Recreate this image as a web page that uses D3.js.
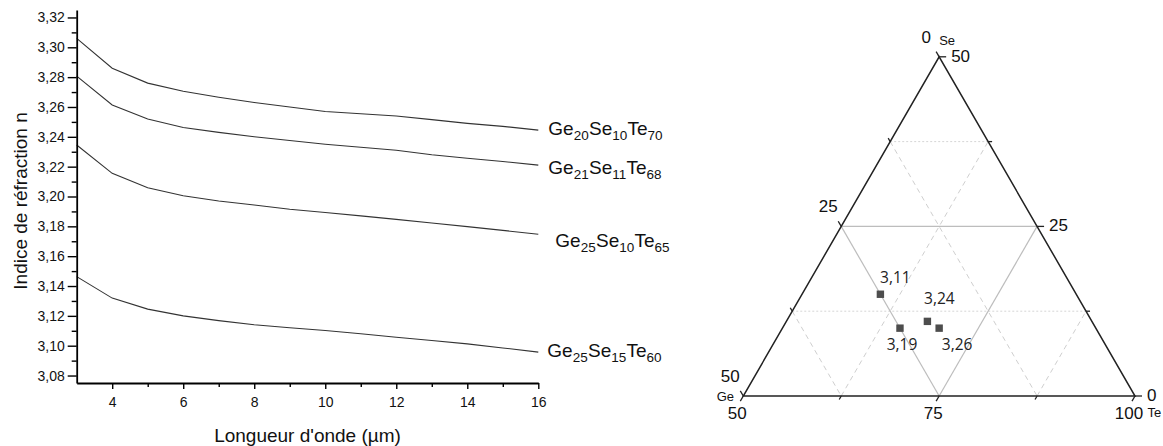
<!DOCTYPE html>
<html><head><meta charset="utf-8">
<script src="https://cdn.jsdelivr.net/npm/d3@7"></script>
<style>body{margin:0;background:#fff;} svg{display:block;}</style>
</head><body>
<svg id="c" width="1163" height="446"></svg>
<script>
// ---------- Data: refractive index vs wavelength ----------
const wavelengths = [3,4,5,6,7,8,9,10,11,12,13,14,15,16];
const nGe20Se10Te70 = [3.306,3.286,3.276,3.2705,3.2665,3.263,3.260,3.257,3.2555,3.254,3.2515,3.249,3.247,3.2445];
const nGe21Se11Te68 = [3.2807,3.2613,3.2519,3.2463,3.243,3.240,3.2375,3.235,3.233,3.231,3.228,3.2256,3.2235,3.221];
const nGe25Se10Te65 = [3.2345,3.2155,3.2059,3.2005,3.197,3.1943,3.1915,3.1893,3.187,3.1847,3.1822,3.1798,3.1773,3.1747];
const nGe25Se15Te60 = [3.1463,3.1319,3.1245,3.120,3.1168,3.114,3.112,3.1102,3.108,3.1057,3.1035,3.1012,3.0985,3.0957];
const seriesLabels = [
  [["Ge","20"],["Se","10"],["Te","70"]],
  [["Ge","21"],["Se","11"],["Te","68"]],
  [["Ge","25"],["Se","10"],["Te","65"]],
  [["Ge","25"],["Se","15"],["Te","60"]]
];
const xTicks = [4,6,8,10,12,14,16];
const xMinorTicks = [5,7,9,11,13,15];
const yTicks = [3.08,3.10,3.12,3.14,3.16,3.18,3.20,3.22,3.24,3.26,3.28,3.30,3.32];
const yMinorTicks = [3.09,3.11,3.13,3.15,3.17,3.19,3.21,3.23,3.25,3.27,3.29,3.31];
const xTitle = "Longueur d'onde (\u00b5m)";
const yTitle = "Indice de réfraction n";

// ---------- Data: ternary diagram ----------
const compGe = [25,25,21,20];
const compSe = [15,10,11,10];
const compTe = [60,65,68,70];
const indexLabels = ["3,11","3,19","3,24","3,26"];
const geTicks = [0,25,50];
const seTicks = [0,25,50];
const teTicks = [50,75,100];
const minorTicks12 = [12.5,37.5];
const teMinorTicks = [62.5,87.5];

const svg = d3.select("#c");
const FONT = "'Liberation Sans', Arial, sans-serif";

// ================= Left chart =================
const x = d3.scaleLinear().domain([3,16]).range([76.7,538.3]);
const y = d3.scaleLinear().domain([3.075,3.325]).range([383,10]);
const fmt = v => d3.format(".2f")(v).replace(".", ",");

const series = [nGe20Se10Te70, nGe21Se11Te68, nGe25Se10Te65, nGe25Se15Te60];
const line = d3.line().x((d,i)=>x(wavelengths[i])).y(d=>y(d));
svg.append("g").selectAll("path").data(series).join("path")
  .attr("d", line).attr("fill","none").attr("stroke","#333").attr("stroke-width",1.1);

// minor ticks
const gyMin = svg.append("g").attr("transform",`translate(${x.range()[0]},0)`)
  .call(d3.axisLeft(y).tickValues(yMinorTicks).tickSize(5).tickFormat("").tickSizeOuter(0));
gyMin.select(".domain").remove();
const gxMin = svg.append("g").attr("transform",`translate(0,${y.range()[0]})`)
  .call(d3.axisBottom(x).tickValues(xMinorTicks).tickSize(4).tickFormat("").tickSizeOuter(0));
gxMin.select(".domain").remove();

const gy = svg.append("g").attr("transform",`translate(${x.range()[0]},0)`)
  .call(d3.axisLeft(y).tickValues(yTicks).tickSize(9).tickPadding(3).tickFormat(fmt).tickSizeOuter(0));
const gx = svg.append("g").attr("transform",`translate(0,${y.range()[0]})`)
  .call(d3.axisBottom(x).tickValues(xTicks).tickSize(6).tickPadding(8).tickSizeOuter(0));
[gy,gx,gyMin,gxMin].forEach(g=>{
  g.selectAll("line").attr("stroke","#000").attr("stroke-width",1.4);
  g.selectAll(".domain").attr("stroke","#000").attr("stroke-width",1.8);
  g.selectAll("text").attr("font-family",FONT).attr("font-size",14).attr("fill","#111");
});

svg.append("text").attr("x",(x.range()[0]+x.range()[1])/2).attr("y",441.5)
  .attr("text-anchor","middle").attr("font-family",FONT).attr("font-size",19).attr("fill","#111")
  .text(xTitle);
svg.append("text").attr("transform","translate(27,201) rotate(-90)")
  .attr("text-anchor","middle").attr("font-family",FONT).attr("font-size",19).attr("fill","#111")
  .text(yTitle);

// series labels (offset from end of each curve)
const labelOffsets = [[10,5],[10,9],[17,12.5],[9,5]];
series.forEach((s,i)=>{
  const t = svg.append("text")
    .attr("x", x(16)+labelOffsets[i][0]).attr("y", y(s[s.length-1])+labelOffsets[i][1])
    .attr("font-family",FONT).attr("font-size",19).attr("fill","#111");
  seriesLabels[i].forEach(([el,sub])=>{
    t.append("tspan").text(el);
    t.append("tspan").attr("font-size",13.5).attr("dy",5).text(sub);
    t.append("tspan").attr("font-size",1).attr("dy",-5).text(" ");
  });
});

// ================= Ternary =================
// Te(+Se/2) on horizontal, Se on vertical
const tx = d3.scaleLinear().domain([50,100]).range([743.3,1135]);
const ty = d3.scaleLinear().domain([0,50]).range([396,56.8]);
const P = (ge,se,te) => [tx(te + se/2), ty(se)];

const tg = svg.append("g");
const dashed = [
  [[12.5,37.5,50],[12.5,0,87.5]],   // Ge=12.5
  [[37.5,12.5,50],[37.5,0,62.5]],   // Ge=37.5
  [[37.5,0,62.5],[0,37.5,62.5]],    // Te=62.5
  [[12.5,0,87.5],[0,12.5,87.5]]     // Te=87.5
];
const dotted = [
  [[37.5,12.5,50],[0,12.5,87.5]],   // Se=12.5
  [[12.5,37.5,50],[0,37.5,62.5]]    // Se=37.5
];
const solid = [
  [[25,25,50],[0,25,75]],           // Se=25
  [[25,25,50],[25,0,75]],           // Ge=25
  [[25,0,75],[0,25,75]]             // Te=75
];
const seg = (arr, color, dash, w) => tg.append("g").selectAll("line").data(arr).join("line")
  .attr("x1",d=>P(...d[0])[0]).attr("y1",d=>P(...d[0])[1])
  .attr("x2",d=>P(...d[1])[0]).attr("y2",d=>P(...d[1])[1])
  .attr("stroke",color).attr("stroke-width",w).attr("stroke-dasharray",dash);
seg(dashed,"#cfcfcf","5,4",1);
seg(dotted,"#d6d6d6","2,2",1);
seg(solid,"#bdbdbd",null,1.2);

// triangle frame
const corners = [[50,0,50],[0,0,100],[0,50,50]];
tg.append("path").attr("d", d3.line()(corners.map(c=>P(...c))) + "Z")
  .attr("fill","none").attr("stroke","#222").attr("stroke-width",1.5);

// ticks
const tickSeg = (pts, dir, len) => tg.append("g").selectAll("line").data(pts).join("line")
  .attr("x1",d=>P(...d)[0]).attr("y1",d=>P(...d)[1])
  .attr("x2",d=>P(...d)[0]+dir[0]*len).attr("y2",d=>P(...d)[1]+dir[1]*len)
  .attr("stroke","#222").attr("stroke-width",1.3);
tickSeg(geTicks.map(g=>[g,50-g,50]), [-0.5,-0.866], 6);
tickSeg(minorTicks12.map(g=>[g,50-g,50]), [-0.5,-0.866], 4);
tickSeg(seTicks.map(s=>[0,s,100-s]), [1,0], 7);
tickSeg(minorTicks12.map(s=>[0,s,100-s]), [1,0], 4);
tickSeg(teTicks.map(t=>[100-t,0,t]), [-0.5,0.866], 6);
tickSeg(teMinorTicks.map(t=>[100-t,0,t]), [-0.5,0.866], 4);

// tick labels
const lab = (pts, txt, dx, dy, anchor) => tg.append("g").selectAll("text").data(pts).join("text")
  .attr("x",(d)=>P(...d)[0]+dx).attr("y",(d)=>P(...d)[1]+dy)
  .attr("text-anchor",anchor).attr("font-family",FONT).attr("font-size",17).attr("fill","#111")
  .text((d,i)=>txt[i]);
lab(geTicks.map(g=>[g,50-g,50]), geTicks.map(String), -13, -14, "middle");
lab(seTicks.map(s=>[0,s,100-s]), seTicks.map(String), 12, 5, "start");
lab(teTicks.map(t=>[100-t,0,t]), teTicks.map(String), -6, 23, "middle");

// axis names
const axName = (pt, txt, dx, dy, anchor) => tg.append("text")
  .attr("x",P(...pt)[0]+dx).attr("y",P(...pt)[1]+dy).attr("text-anchor",anchor)
  .attr("font-family",FONT).attr("font-size",13).attr("fill","#111").text(txt);
axName([0,50,50],"Se",8,-12,"middle");
axName([50,0,50],"Ge",-18,5,"middle");
axName([0,0,100],"Te",12.5,20.5,"start");

// points
const pts = compGe.map((g,i)=>P(g,compSe[i],compTe[i]));
tg.append("g").selectAll("rect").data(pts).join("rect")
  .attr("x",d=>d[0]-3.7).attr("y",d=>d[1]-3.7).attr("width",7.4).attr("height",7.4)
  .attr("fill","#4d4d4d");
const pLabelOff = [[15,-11],[2,22],[12,-17],[18,22]];
tg.append("g").selectAll("text").data(pts).join("text")
  .attr("x",(d,i)=>d[0]+pLabelOff[i][0]).attr("y",(d,i)=>d[1]+pLabelOff[i][1])
  .attr("text-anchor","middle").attr("font-family","'Open Sans', sans-serif").attr("font-size",15.5)
  .attr("fill","#222").text((d,i)=>indexLabels[i]);
</script>
</body></html>
